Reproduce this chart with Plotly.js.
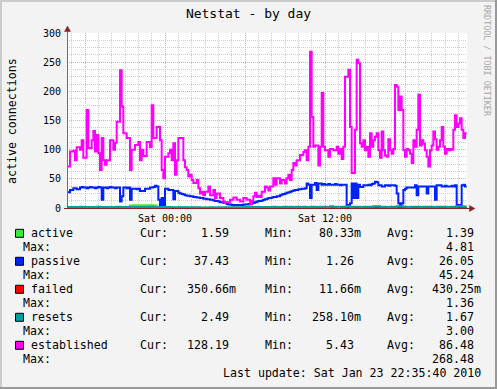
<!DOCTYPE html>
<html><head><meta charset="utf-8">
<script src="https://cdn.plot.ly/plotly-3.0.1.min.js"></script>
<style>
html,body{margin:0;padding:0;background:#f3f3f3;}
#wrap{position:relative;width:497px;height:389px;overflow:hidden;}
#chart{position:absolute;left:0;top:0;width:497px;height:389px;}
.b{position:absolute;pointer-events:none;}
</style></head><body>
<div id="wrap"><div id="chart"></div>
<div class="b" style="left:0;top:0;width:497px;height:2px;background:#cbcbcb"></div>
<div class="b" style="left:0;top:0;width:2px;height:389px;background:#cbcbcb"></div>
<div class="b" style="left:0;top:387px;width:497px;height:2px;background:#999"></div>
<div class="b" style="left:495px;top:0;width:2px;height:389px;background:#999"></div>
</div>
<script>
// ---------------- data ----------------
const chartTitle = 'Netstat - by day';
const yAxisTitle = 'active connections';
const watermark = 'RRDTOOL / TOBI OETIKER';
const seriesNames = ['active', 'passive', 'failed', 'resets', 'established'];
const seriesColors = ['#33ee33', '#0022ff', '#ff0000', '#00a0a0', '#ff00ff'];
const curValues = ['1.59', '37.43', '350.66m', '2.49', '128.19'];
const minValues = ['80.33m', '1.26', '11.66m', '258.10m', '5.43'];
const avgValues = ['1.39', '26.05', '430.25m', '1.67', '86.48'];
const maxValues = ['4.81', '45.24', '1.36', '3.00', '268.48'];
const lastUpdate = 'Last update: Sat Jan 23 22:35:40 2010';
const xTickVals = ['2010-01-22 18:00', '2010-01-23 00:00', '2010-01-23 06:00', '2010-01-23 12:00', '2010-01-23 18:00'];
const xTickText = ['', 'Sat 00:00', '', 'Sat 12:00', ''];
const xRange = ['2010-01-22 16:39:00', '2010-01-23 22:39:00'];
const yRange = [0, 300];

const sampleStart = Date.UTC(2010, 0, 22, 16, 37, 30);
const fineStepMin = 7.5;    // established, passive
const coarseStepMin = 15;   // active, failed, resets

const established = [
  71,71,97,97,98,82,104,104,100,116,
  86,86,168,103,103,116,132,97,125,94,
  65,120,82,74,82,82,116,116,100,112,
  148,148,236,174,128,128,120,120,65,100,
  100,108,108,113,82,100,89,89,113,113,
  104,176,120,120,139,139,116,65,51,88,
  88,94,100,82,111,57,82,120,120,120,
  82,70,65,54,57,48,43,43,48,34,
  25,28,22,28,28,37,22,22,31,17,
  25,25,17,17,11,10,10,10,14,14,
  18,18,14,14,11,11,17,17,14,14,
  6,12,20,26,19,21,19,28,28,37,
  35,30,37,37,51,40,51,51,42,48,
  48,42,51,57,48,65,77,73,82,82,
  91,91,96,99,82,105,268,156,105,107,
  107,73,105,197,105,99,99,88,101,101,
  99,99,105,93,101,84,105,225,225,237,
  139,60,60,134,254,248,111,105,116,99,
  105,88,128,105,116,122,128,99,86,131,
  99,90,88,118,99,93,101,211,208,168,
  191,168,99,88,101,99,93,77,116,105,
  134,194,107,116,110,99,88,71,99,107,
  131,118,100,105,116,139,105,93,101,99,
  101,100,134,159,139,145,154,134,120,128
];
const passive = [
  27,27,31,31,34,34,32,32,35,36,
  35,35,34,35,36,35,35,34,35,36,
  35,14,35,35,34,35,36,35,35,34,
  35,35,11,20,35,35,34,35,14,33,
  33,33,32,33,29,29,29,33,33,33,
  35,35,36,38,37,14,5,17,5,33,
  33,31,31,31,15,29,29,26,25,24,
  23,22,21,21,20,20,19,19,18,18,
  17,17,16,16,15,15,14,14,13,12,
  12,11,10,10,9,9,7,6,6,5,
  5,5,5,5,5,5,6,6,6,7,
  7,8,9,10,11,12,12,13,14,15,
  16,17,17,18,19,19,20,20,22,23,
  24,25,26,27,28,29,30,31,31,32,
  32,33,33,34,42,40,17,40,40,43,
  31,42,42,40,41,40,40,41,40,40,
  40,41,40,40,39,40,40,40,5,5,
  8,42,17,42,17,40,36,36,39,39,
  39,40,39,41,42,45,44,39,39,37,
  37,39,39,38,39,39,39,38,25,8,
  5,8,31,33,35,35,35,35,35,39,
  22,37,37,37,37,37,25,37,37,37,
  37,14,39,39,39,37,37,38,37,37,
  37,38,37,39,5,5,5,39,40,37
];
const active = [
  1.2,1.1,1.3,1.2,1.4,1.2,1.1,1.3,1.2,1.5,
  1.3,1.2,1.4,1.6,1.3,1.2,1.5,1.4,1.8,4.5,
  4.7,4.6,4.8,4.7,4.6,4.7,4.4,1.6,1.3,1.2,
  1.1,1.0,0.9,0.8,0.8,0.7,0.6,0.6,0.5,0.5,
  0.4,0.3,0.3,0.2,0.2,0.1,0.1,0.1,0.2,0.2,
  0.3,0.3,0.4,0.5,0.6,0.6,0.7,0.8,0.9,1.0,
  1.1,1.1,1.2,1.3,1.2,1.4,1.3,1.5,1.4,1.6,
  1.5,1.4,1.6,1.5,1.3,1.4,1.6,1.5,1.4,1.5,
  1.6,1.4,1.5,1.3,1.4,1.6,1.5,1.4,1.5,1.6,
  1.4,1.5,1.6,1.5,1.4,1.3,1.5,1.6,1.4,1.5,
  1.6,1.5,1.4,1.5,1.6,1.4,1.5,1.3,1.5,1.6,
  1.4,1.5,1.6,1.5,1.4,1.3,1.5,1.6,1.5,1.59
];
const failed = [
  0.4,0.5,0.4,0.3,0.5,0.4,0.4,0.6,0.4,0.3,
  0.5,0.4,0.4,0.5,0.3,0.4,0.5,0.4,0.6,0.4,
  0.4,0.5,0.3,0.4,0.5,0.4,0.4,0.3,0.4,0.5,
  0.3,0.3,0.2,0.2,0.1,0.1,0.1,0.1,0.05,0.05,
  0.02,0.02,0.02,0.05,0.05,0.1,0.1,0.1,0.2,0.2,
  0.3,0.3,0.4,0.4,0.5,0.4,0.5,0.6,0.5,0.4,
  0.5,0.6,0.5,0.4,0.6,0.5,0.7,0.6,0.5,0.6,
  0.5,0.6,0.7,0.5,0.6,0.7,0.6,0.5,1.36,0.6,
  0.5,0.7,0.6,0.5,0.6,1.3,0.6,0.5,0.7,0.6,
  0.5,0.6,0.7,0.6,0.5,0.6,0.7,0.5,0.6,0.7,
  0.6,0.5,0.6,0.7,0.6,0.5,0.6,0.7,0.6,0.5,
  0.6,0.7,0.5,0.6,0.7,0.6,0.5,0.6,0.4,0.35
];
const resets = [
  1.8,1.9,1.7,1.8,2.0,1.9,1.8,1.7,1.9,2.0,
  1.8,1.9,1.8,1.7,1.9,2.0,1.8,1.9,1.7,1.8,
  1.9,1.8,1.7,1.9,1.8,2.0,1.9,1.8,1.7,1.8,
  1.6,1.5,1.4,1.4,1.3,1.3,1.2,1.2,1.1,1.1,
  1.0,1.0,1.0,1.1,1.1,1.2,1.2,1.3,1.3,1.4,
  1.4,1.5,1.5,1.6,1.6,1.7,1.8,1.7,1.8,1.9,
  1.8,1.9,2.0,1.9,1.8,2.0,1.9,2.0,1.9,2.1,
  1.9,2.0,1.9,2.1,2.0,1.9,2.0,2.1,0.3,2.8,
  2.0,1.9,2.1,2.0,2.8,0.26,2.0,2.1,1.9,2.0,
  2.1,2.0,2.9,3.0,2.0,2.1,1.9,2.0,2.1,2.8,
  2.9,2.0,1.9,2.1,2.0,2.1,1.9,2.0,2.1,2.0,
  1.9,2.0,2.1,2.0,1.9,2.0,2.1,2.9,3.0,2.49
];

// ---------------- build ----------------
function timeAxis(n, stepMin) {
  const out = [];
  for (let i = 0; i <= n; i++) {
    out.push(new Date(sampleStart + i * stepMin * 60000).toISOString().slice(0, 19).replace('T', ' '));
  }
  return out;
}
function withEnd(vals) { return vals.concat([vals[vals.length - 1]]); }

const fineT = timeAxis(established.length, fineStepMin);
const coarseT = timeAxis(active.length, coarseStepMin);
const seriesData = [
  {x: coarseT, y: withEnd(active)},
  {x: fineT, y: withEnd(passive)},
  {x: coarseT, y: withEnd(failed)},
  {x: coarseT, y: withEnd(resets)},
  {x: fineT, y: withEnd(established)}
];
const traces = seriesData.map((d, k) => ({
  x: d.x, y: d.y, type: 'scatter', mode: 'lines', name: seriesNames[k],
  line: {color: seriesColors[k], width: 2, shape: 'hv'}, hoverinfo: 'skip'
}));

// pixel helpers (plot area: x 67..467, y 33..208)
const PL = 67, PW = 400, PB = 208, PH = 175;
const xp = px => (px - PL) / PW;
const yp = py => (PB - py) / PH;

const FONT = 'DejaVu Sans Mono';
const LFS = 11.6;
const NB = '\u00a0';
function ann(text, px, py, xanchor, size, color, angle) {
  return {text: text, x: xp(px), y: yp(py), xref: 'paper', yref: 'paper',
    xanchor: xanchor, yanchor: 'middle', showarrow: false, borderpad: 0, borderwidth: 0,
    textangle: angle || 0, font: {family: FONT, size: size, color: color || '#000'}};
}
function val(s) { return /m$/.test(s) ? s : s + NB; }

const annotations = [];
const shapes = [];
annotations.push(ann(yAxisTitle, 11.5, 120.5, 'center', LFS, '#000', -90));
annotations.push(ann(watermark, 487.5, 60.5, 'center', 8.4, '#a8a8a8', 90));
for (let k = 0; k < seriesNames.length; k++) {
  const ry = 233.3 + 28 * k;
  const my = ry + 13.8;
  shapes.push({type: 'rect', xref: 'paper', yref: 'paper',
    x0: xp(15.5), x1: xp(23.5), y0: yp(ry + 4), y1: yp(ry - 4),
    fillcolor: seriesColors[k], line: {color: '#000', width: 1}});
  annotations.push(ann(seriesNames[k], 30.7, ry, 'left', LFS));
  annotations.push(ann('Cur:', 140, ry, 'left', LFS));
  annotations.push(ann(val(curValues[k]), 235.5, ry, 'right', LFS));
  annotations.push(ann('Min:', 265, ry, 'left', LFS));
  annotations.push(ann(val(minValues[k]), 360.5, ry, 'right', LFS));
  annotations.push(ann('Avg:', 386.7, ry, 'left', LFS));
  annotations.push(ann(val(avgValues[k]), 480.5, ry, 'right', LFS));
  annotations.push(ann('Max:', 23.3, my, 'left', LFS));
  annotations.push(ann(val(maxValues[k]), 480.5, my, 'right', LFS));
}
annotations.push(ann(lastUpdate, 480.5, 373.3, 'right', LFS));

// axes lines + arrows
const AX = '#8b2020';
shapes.push({type: 'line', xref: 'paper', yref: 'paper', x0: xp(67.5), x1: xp(67.5), y0: yp(208.5), y1: yp(29), line: {color: '#707070', width: 1}});
shapes.push({type: 'line', xref: 'paper', yref: 'paper', x0: xp(64), x1: xp(470), y0: yp(208.5), y1: yp(208.5), line: {color: AX, width: 1}});
shapes.push({type: 'path', xref: 'paper', yref: 'paper', fillcolor: AX, line: {color: AX, width: 0.5},
  path: 'M' + xp(67.5) + ',' + yp(26) + ' L' + xp(64.5) + ',' + yp(31.5) + ' L' + xp(70.5) + ',' + yp(31.5) + ' Z'});
shapes.push({type: 'path', xref: 'paper', yref: 'paper', fillcolor: AX, line: {color: AX, width: 0.5},
  path: 'M' + xp(475) + ',' + yp(208.5) + ' L' + xp(469.5) + ',' + yp(205.5) + ' L' + xp(469.5) + ',' + yp(211.5) + ' Z'});

const layout = {
  width: 497, height: 389,
  margin: {l: 67, r: 30, t: 33, b: 181, pad: 0},
  paper_bgcolor: '#f3f3f3', plot_bgcolor: '#ffffff',
  showlegend: false,
  font: {family: FONT, size: 10, color: '#000'},
  title: {text: chartTitle, x: 0.5, xanchor: 'center', y: 1 - 13 / 389, yanchor: 'middle',
    font: {family: FONT, size: 13, color: '#000'}},
  xaxis: {
    type: 'date', range: xRange, fixedrange: true,
    tickmode: 'array', tickvals: xTickVals, ticktext: xTickText,
    showgrid: true, gridcolor: '#f2a0a0', griddash: '1px,1px', gridwidth: 1,
    minor: {tickmode: 'linear', tick0: '2010-01-22 17:00', dtick: 3600000, showgrid: true,
      gridcolor: '#cccccc', griddash: '1px,1px', gridwidth: 1},
    ticks: '', showline: false, zeroline: false, ticklabelstandoff: 3,
    tickfont: {family: FONT, size: 10, color: '#000'}
  },
  yaxis: {
    range: yRange, fixedrange: true, tickmode: 'linear', tick0: 0, dtick: 50,
    showgrid: true, gridcolor: '#f2a0a0', griddash: '1px,1px', gridwidth: 1,
    minor: {tickmode: 'linear', tick0: 0, dtick: 12.5, showgrid: true,
      gridcolor: '#cccccc', griddash: '1px,1px', gridwidth: 1},
    ticks: '', showline: false, zeroline: false, ticklabelstandoff: 5,
    tickfont: {family: FONT, size: 10, color: '#000'}
  },
  shapes: shapes, annotations: annotations
};
Plotly.newPlot('chart', traces, layout, {staticPlot: true, displayModeBar: false});
</script>
</body></html>
